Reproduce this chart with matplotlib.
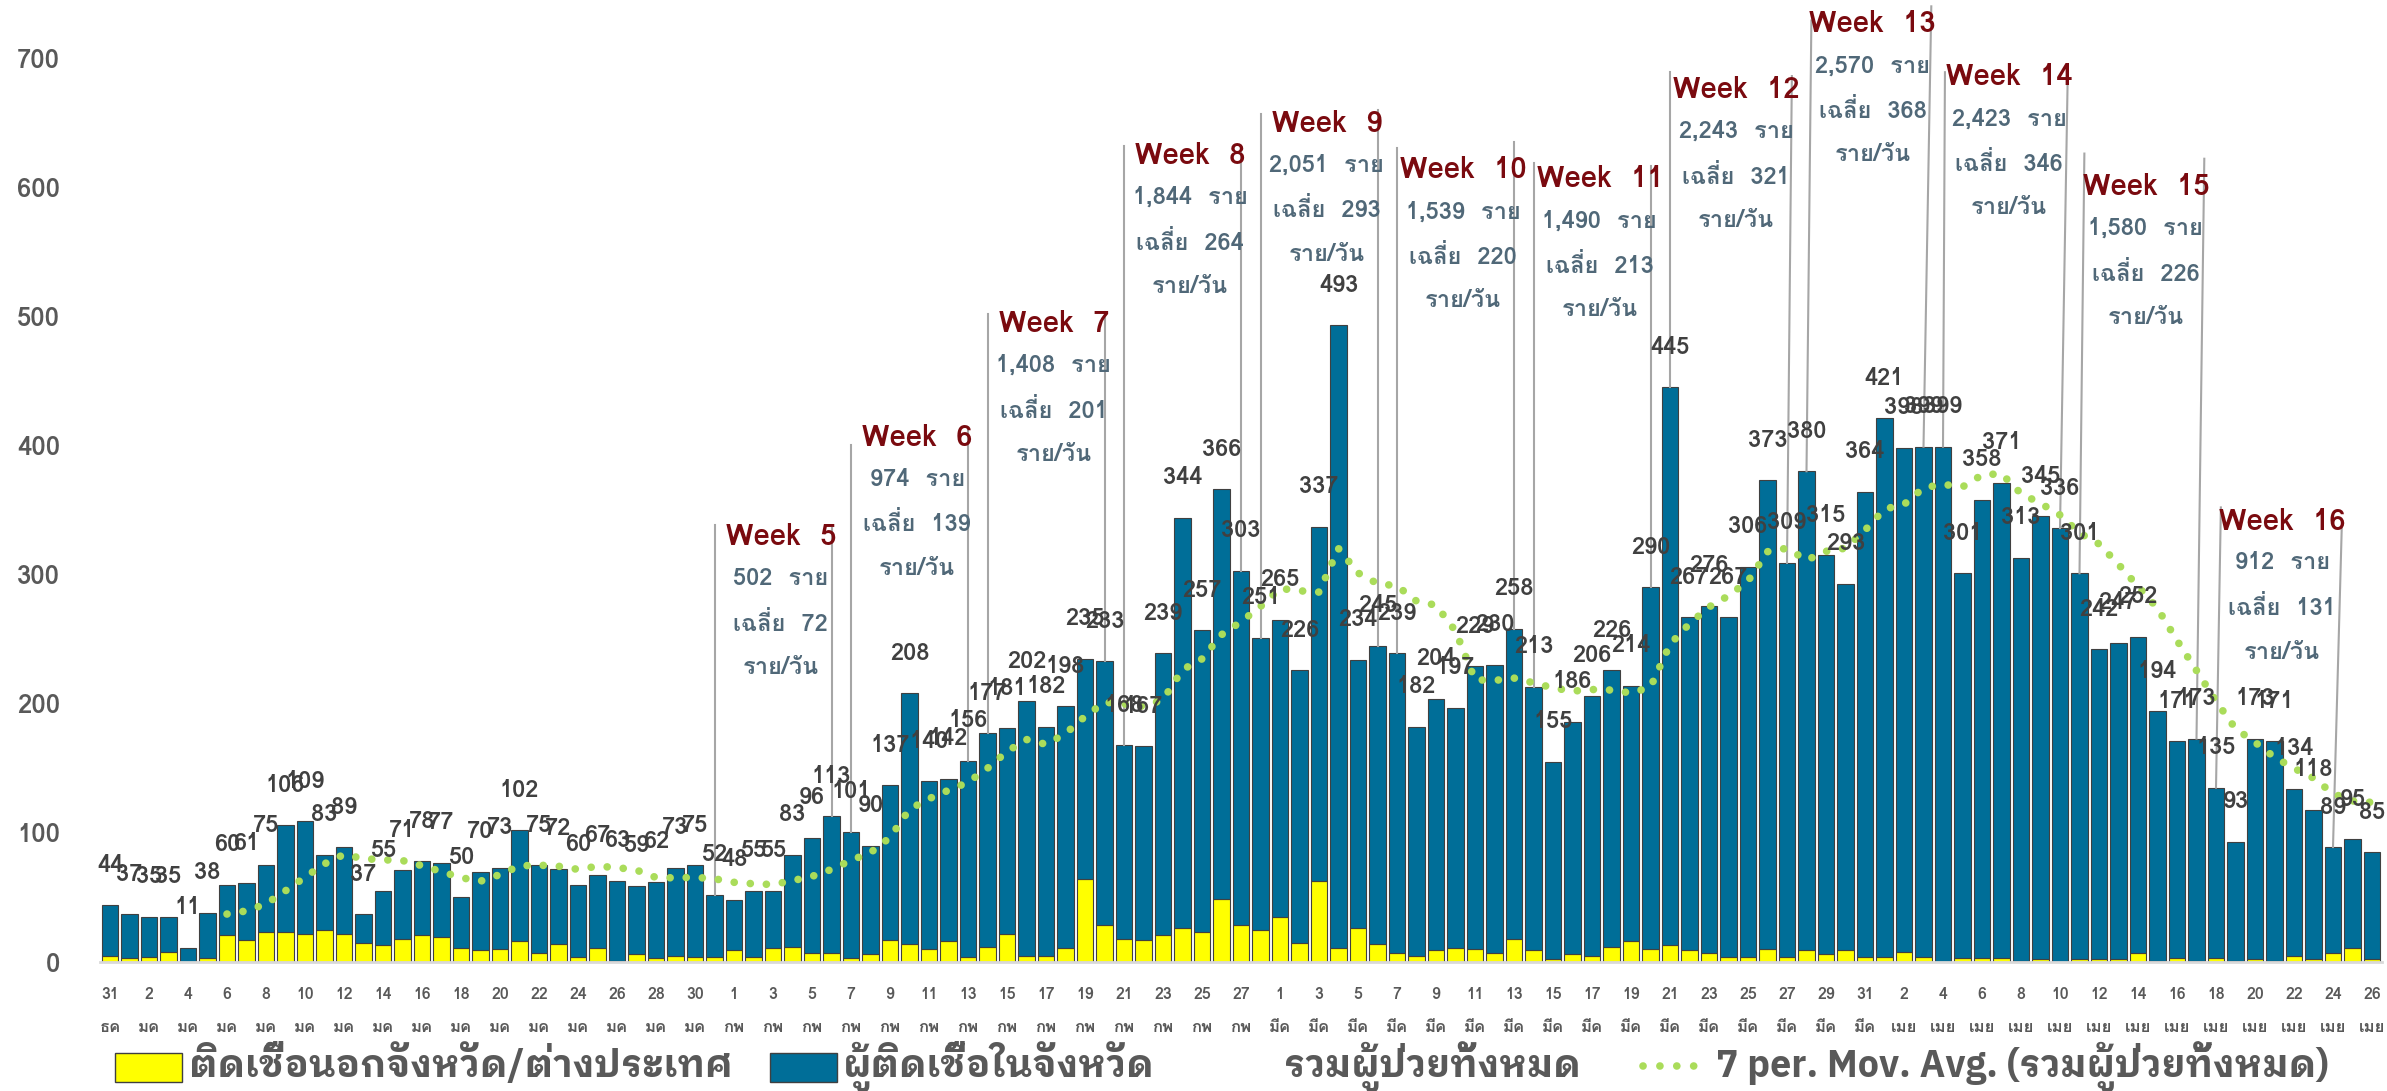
import numpy as np
import pandas as pd
import matplotlib
matplotlib.use('Agg')
import matplotlib.pyplot as plt
from matplotlib.patches import Rectangle
from matplotlib.lines import Line2D
from matplotlib.transforms import blended_transform_factory

plt.rcParams['font.family'] = ['Loma', 'DejaVu Sans']
plt.rcParams['font.weight'] = 'bold'

# daily cases 31 Dec - 26 Apr
dates = pd.date_range('2020-12-31', '2021-04-26')
thai_month = {12: 'ธค', 1: 'มค', 2: 'กพ', 3: 'มีค', 4: 'เมย'}

total = np.array([
    44,
    37, 35, 35, 11, 38, 60, 61, 75, 106, 109, 83, 89, 37, 55, 71, 78,
    77, 50, 70, 73, 102, 75, 72, 60, 67, 63, 59, 62, 73, 75, 52,
    48, 55, 55, 83, 96, 113, 101, 90, 137, 208, 140, 142, 156, 177,
    181, 202, 182, 198, 235, 233, 168, 167, 239, 344, 257, 366, 303, 251,
    265, 226, 337, 493, 234, 245, 239, 182, 204, 197, 229, 230, 258, 213,
    155, 186, 206, 226, 214, 290, 445, 267, 276, 267, 306, 373, 309, 380,
    315, 293, 364,
    421, 398, 399, 399, 301, 358, 371, 313, 345, 336, 301, 242, 247, 252,
    194, 171, 173, 135, 93, 173, 171, 134, 118, 89, 95, 85])

# infected outside the province / abroad (yellow part)
outside = np.array([
    5,
    3, 4, 8, 0, 3, 21, 17, 23, 23, 22, 25, 22, 15, 13, 18, 21,
    19, 11, 9, 10, 16, 7, 14, 4, 11, 1, 6, 3, 5, 4, 4,
    9, 4, 11, 12, 7, 7, 3, 6, 17, 14, 10, 16, 4, 12,
    22, 5, 5, 11, 64, 29, 18, 17, 21, 26, 23, 49, 29, 25,
    35, 15, 63, 11, 26, 14, 7, 5, 9, 11, 10, 7, 18, 9,
    2, 6, 5, 12, 16, 10, 13, 9, 7, 4, 4, 10, 4, 9,
    6, 9, 4,
    4, 8, 4, 0, 3, 3, 3, 1, 2, 0, 2, 2, 2, 7,
    1, 3, 1, 3, 1, 2, 1, 5, 2, 7, 11, 2])
inside = total - outside

week_names = ['Week  5', 'Week  6', 'Week  7', 'Week  8', 'Week  9', 'Week  10',
              'Week  11', 'Week  12', 'Week  13', 'Week  14', 'Week  15', 'Week  16']
week_start = ['2021-01-31', '2021-02-07', '2021-02-14', '2021-02-21', '2021-02-28',
              '2021-03-07', '2021-03-14', '2021-03-21', '2021-03-28', '2021-04-04',
              '2021-04-11', '2021-04-18']
week_sum = ['502', '974', '1,408', '1,844', '2,051', '1,539', '1,490', '2,243',
            '2,570', '2,423', '1,580', '912']
week_avg = ['72', '139', '201', '264', '293', '220', '213', '321', '368', '346',
            '226', '131']

# where the week boxes sit (data units)
title_y = [329, 406, 494, 624, 649, 613, 606, 675, 726, 685, 600, 341]
top_left = [338, 400, 502, 632, 657, 630, 619, 689, 729, 689, 626, 352]
top_right = [336, 412, 503, 632, 660, 635, 616, 686, 740, 690, 622, 337]
tilt_left = [0, 0, 0, 0, 0, 0, 0, 0, 0.25, 0.1, 0.25, 0.25]
tilt_right = [0, 0, 0, 0, 0, 0, 0, 0.25, 0.4, 0.4, 0.4, 0.45]

W, H = 2387, 1091
fig = plt.figure(figsize=(W / 100, H / 100), dpi=100)
ax = fig.add_axes([100.25 / W, 129 / H, 117 * 19.5 / W, 904 / H])

x = np.arange(len(total))
ax.bar(x, outside, width=0.87, color='#ffff00', edgecolor='#404040', lw=0.8, zorder=2)
ax.bar(x, inside, bottom=outside, width=0.87, color='#006e98', edgecolor='#404040',
       lw=0.8, zorder=2)

ma = pd.Series(total).rolling(7).mean()
ax.plot(x, ma, color='#aadc5a', lw=5.5, linestyle=(0, (0.01, 2.1)),
        dash_capstyle='round', zorder=4)

for i, v in enumerate(total):
    ax.text(i, v + 31, str(v), ha='center', va='center', fontsize=17,
            color='#404040', zorder=5, clip_on=False)

# week callouts
sub = dict(ha='center', va='center', fontsize=17, color='#506878', zorder=6,
           clip_on=False)
for k in range(len(week_names)):
    s = dates.get_loc(pd.Timestamp(week_start[k]))
    e = s + 6
    xc = (s + e) / 2 + 0.4
    ty = title_y[k]
    ax.text(xc, ty, week_names[k], ha='center', va='center', fontsize=21,
            color='#7a0a0f', zorder=6, clip_on=False)
    ax.text(xc, ty - 32, week_sum[k] + '  ราย', **sub)
    ax.text(xc, ty - 67, 'เฉลี่ย  ' + week_avg[k], **sub)
    ax.text(xc, ty - 101, 'ราย/วัน', **sub)
    ax.plot([s + tilt_left[k], s], [top_left[k], total[s]], color='#a6a6a6',
            lw=1.5, zorder=3, clip_on=False)
    ax.plot([e + tilt_right[k], e], [top_right[k], total[e]], color='#a6a6a6',
            lw=1.5, zorder=3, clip_on=False)

ax.set_xlim(-0.5, len(total) - 0.5)
ax.set_ylim(0, 700)
ax.set_yticks(range(0, 701, 100))
ax.tick_params(axis='y', length=0, pad=29, labelsize=18.5, labelcolor='#595959')
ax.set_xticks(x[::2])
ax.set_xticklabels([str(d.day) for d in dates[::2]])
ax.tick_params(axis='x', length=0, pad=26.5, labelsize=11.5, labelcolor='#595959')
for lab in ax.get_xticklabels():
    lab.set_verticalalignment('baseline')
trans = blended_transform_factory(ax.transData, ax.transAxes)
for i in x[::2]:
    ax.text(i, -70 / 904, thai_month[dates[i].month], transform=trans, ha='center',
            va='baseline', fontsize=12, color='#595959')

for side in ['left', 'right', 'top']:
    ax.spines[side].set_visible(False)
ax.spines['bottom'].set_color('#d9d9d9')
ax.spines['bottom'].set_linewidth(2)

# legend row along the bottom
def fx(px):
    return px / W

def fy(py):
    return 1 - py / H

leg_font = dict(family=['IBM Plex Sans Thai Looped', 'DejaVu Sans'], fontsize=27,
                color='#595959', va='baseline', ha='left')
fig.add_artist(Rectangle((fx(115), fy(1082)), 67 / W, 29 / H, transform=fig.transFigure,
                         fc='#ffff00', ec='#404040', lw=1))
fig.text(fx(189), fy(1077), 'ติดเชื้อนอกจังหวัด/ต่างประเทศ', **leg_font)
fig.add_artist(Rectangle((fx(770), fy(1082)), 67 / W, 29 / H, transform=fig.transFigure,
                         fc='#006e98', ec='#404040', lw=1))
fig.text(fx(843), fy(1077), 'ผู้ติดเชื้อในจังหวัด', **leg_font)
fig.text(fx(1284), fy(1077), 'รวมผู้ป่วยทั้งหมด', **leg_font)
fig.add_artist(Line2D([fx(1643), fx(1706)], [fy(1066), fy(1066)], transform=fig.transFigure,
                      color='#aadc5a', lw=5.5, linestyle=(0, (0.01, 2.2)),
                      dash_capstyle='round'))
fig.text(fx(1716), fy(1077), '7 per. Mov. Avg. (รวมผู้ป่วยทั้งหมด)', **leg_font)

fig.savefig('out.png', dpi=100)
